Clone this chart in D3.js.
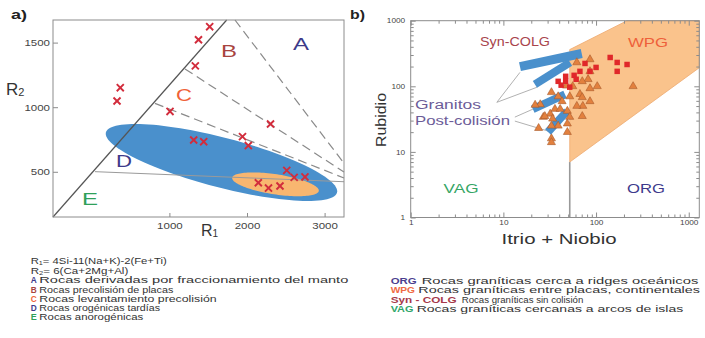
<!DOCTYPE html>
<html>
<head>
<meta charset="utf-8">
<script src="https://cdn.jsdelivr.net/npm/d3@7"></script>
<style>
  body { margin: 0; background: #fff; }
  svg { display: block; font-family: "Liberation Sans", Arial, sans-serif; }
</style>
</head>
<body>
<div id="chart"></div>
<script>
// ---- a) R1-R2 diagram ----
const r1Ticks = [1000, 2000, 3000];
const r2Ticks = [500, 1000, 1500];

// samples (R1, R2)
const samplesA = [
  [1519, 1623], [1375, 1522], [1334, 1320], [367, 1151], [325, 1048],
  [1008, 967], [2303, 870], [1942, 772], [2017, 703], [1313, 746],
  [1442, 733], [2512, 511], [2608, 457], [2747, 460], [2146, 415],
  [2277, 374], [2425, 390]
];

// field boundaries
const solidBoundary = [[-500, 150], [1738, 1675]];
const dashedBoundaries = [
  [[1845, 1675], [3250, 566]],
  [[1201, 1296], [3250, 498]],
  [[814, 1030], [3250, 452]]
];
const lateBoundary = [[41, 501], [3250, 423]];

// ellipses: centre, end of long axis, end of short axis
const blueField = [[1671, 572], [3160, 339], [1753, 758]];
const orangeField = [[2367, 403], [2925, 352], [2387, 480]];

const fieldLabelsA = ['A', 'B', 'C', 'D', 'E'];
const fieldColors = ['#3d3a8a', '#a8443f', '#ef6238', '#3d3a8a', '#2fa05a'];
const legendA = [
  'Rocas derivadas por fraccionamiento del manto',
  'Rocas precolisión de placas',
  'Rocas levantamiento precolisión',
  'Rocas orogénicas tardías',
  'Rocas anorogénicas'
];

// ---- b) Rb vs Y+Nb ----
const ynbTicks = [1, 10, 100, 1000];
const rbTicks = [1, 10, 100, 1000];

const triangles = [
  [62, 231], [86, 257], [86, 169], [82, 128], [71, 119], [103, 100], [86, 93],
  [56, 100], [67, 76], [52, 70], [71, 68], [33, 81], [39, 70], [43, 59],
  [25, 53], [36, 45], [41, 45], [32, 38], [49, 42], [27, 34], [34, 32],
  [52, 34], [71, 35], [39, 25], [49, 27], [24, 23], [33, 25], [49, 20],
  [33, 16], [33, 14], [251, 100], [86, 59], [72, 50], [62, 50], [22, 52],
  [28, 35], [48, 102]
];
const squares = [
  [142, 275], [169, 231], [216, 215], [169, 169], [76, 223], [100, 194],
  [86, 169], [67, 169], [58, 147], [47, 142], [61, 128], [39, 119],
  [47, 119], [42, 104], [52, 97]
];
const postCollisionBars = [
  [[15.1, 199], [70, 316]],
  [[21.9, 107], [52.4, 231]],
  [[20.8, 44.8], [46.2, 75.6]],
  [[30.3, 20.1], [48.6, 41.8]]
];
const leaderLines = [
  [[8.5, 57], [15.1, 163]],
  [[8.5, 57], [23, 96.6]],
  [[13.3, 33.9], [20.8, 44.8]],
  [[13.3, 29.5], [30.3, 20.8]]
];
const wpgField = [[52, 7], [52, 363], [216, 1000], [1300, 1000], [1300, 192]];
const vagOrgLine = [[52, 1], [52, 7]];

const legendB = [
  ['ORG', 'Rocas graníticas cerca a ridges oceánicos', '#4b3f8f'],
  ['WPG', 'Rocas graníticas entre placas, continentales', '#f06a45'],
  ['Syn - COLG', 'Rocas graníticas sin colisión', '#a6394a'],
  ['VAG', 'Rocas graníticas cercanas a arcos de islas', '#2fa66a']
];

const svg = d3.select('#chart').append('svg')
  .attr('width', 705)
  .attr('height', 338);

function addText(g, x, y, str, size, width, opts = {}) {
  const t = g.append('text')
    .attr('x', x)
    .attr('y', y)
    .attr('font-size', size)
    .attr('fill', opts.fill || '#333')
    .attr('text-anchor', opts.anchor || 'start')
    .text(str);
  if (opts.bold) t.attr('font-weight', 'bold');
  if (width) t.attr('textLength', width).attr('lengthAdjust', 'spacingAndGlyphs');
  return t;
}

function ellipsePath(e, x, y) {
  const [c, a, b] = e;
  const pts = d3.range(0, 360, 3).map(deg => {
    const t = deg * Math.PI / 180;
    return [
      c[0] + (a[0] - c[0]) * Math.cos(t) + (b[0] - c[0]) * Math.sin(t),
      c[1] + (a[1] - c[1]) * Math.cos(t) + (b[1] - c[1]) * Math.sin(t)
    ];
  });
  return d3.line().x(d => x(d[0])).y(d => y(d[1])).curve(d3.curveLinearClosed)(pts);
}

// ================= plot a =================
const xA = d3.scaleLinear().domain([-500, 3250]).range([53, 344]);
const yA = d3.scaleLinear().domain([150, 1675]).range([217, 20]);
const lineA = d3.line().x(d => xA(d[0])).y(d => yA(d[1]));

const ga = svg.append('g');

ga.append('path').attr('d', ellipsePath(blueField, xA, yA)).attr('fill', '#4a90cc');
ga.append('path').attr('d', ellipsePath(orangeField, xA, yA)).attr('fill', '#f8b670');

ga.append('path').attr('d', lineA(lateBoundary))
  .attr('stroke', '#9a9a9a').attr('stroke-width', 1).attr('fill', 'none');
dashedBoundaries.forEach(l => {
  ga.append('path').attr('d', lineA(l))
    .attr('stroke', '#8a8a8a').attr('stroke-width', 1.2)
    .attr('stroke-dasharray', '9,5').attr('fill', 'none');
});
ga.append('path').attr('d', lineA(solidBoundary))
  .attr('stroke', '#555').attr('stroke-width', 1.2).attr('fill', 'none');

ga.append('rect')
  .attr('x', xA(-500)).attr('y', yA(1675))
  .attr('width', xA(3250) - xA(-500)).attr('height', yA(150) - yA(1675))
  .attr('fill', 'none').attr('stroke', '#8c8c8c').attr('stroke-width', 1);

ga.selectAll('.xmark')
  .data(samplesA)
  .enter().append('path')
  .attr('class', 'xmark')
  .attr('d', d3.symbol(d3.symbolX, 34))
  .attr('transform', d => `translate(${xA(d[0])},${yA(d[1])})`)
  .attr('stroke', '#d22c3c').attr('stroke-width', 1.9).attr('fill', 'none');

// axes a
const axLeftA = ga.append('g')
  .attr('transform', `translate(${xA(-500)},0)`)
  .call(d3.axisLeft(yA).tickValues(r2Ticks).tickSize(-5).tickPadding(3).tickFormat(d3.format('d')));
const axBottomA = ga.append('g')
  .attr('transform', `translate(0,${yA(150)})`)
  .call(d3.axisBottom(xA).tickValues(r1Ticks).tickSize(-4).tickPadding(5).tickFormat(d3.format('d')));
[axLeftA, axBottomA].forEach(ax => {
  ax.select('.domain').remove();
  ax.selectAll('line').attr('stroke', '#8c8c8c');
  ax.selectAll('text')
    .attr('font-size', 9.5).attr('fill', '#444')
    .attr('textLength', d => String(d).length * 6.4)
    .attr('lengthAdjust', 'spacingAndGlyphs');
});

// field letters
const letterPos = [[301, 50], [229, 57], [184, 100.5], [124, 166.5], [90, 205]];
fieldLabelsA.forEach((l, i) => {
  addText(ga, letterPos[i][0], letterPos[i][1], l, 16, 16, {fill: fieldColors[i], anchor: 'middle'});
});

addText(ga, 11, 19, 'a)', 13, 16, {fill: '#222', bold: true});

// axis titles R1 / R2
const r2t = ga.append('text').attr('x', 6).attr('y', 95).attr('font-size', 17).attr('fill', '#333');
r2t.append('tspan').text('R');
r2t.append('tspan').attr('font-size', 11).attr('dy', 1).text('2');
const r1t = ga.append('text').attr('x', 201).attr('y', 236).attr('font-size', 16).attr('fill', '#333');
r1t.append('tspan').text('R');
r1t.append('tspan').attr('font-size', 10).attr('dy', 1).text('1');

// legend a
const legFont = 8.6;
const leg1 = ga.append('text').attr('x', 30.7).attr('y', 264).attr('font-size', legFont).attr('fill', '#333')
  .attr('textLength', 136).attr('lengthAdjust', 'spacingAndGlyphs');
leg1.append('tspan').text('R');
leg1.append('tspan').attr('font-size', 5.5).attr('dy', 1).text('1');
leg1.append('tspan').attr('dy', -1).text('=  4Si-11(Na+K)-2(Fe+Ti)');
const leg2 = ga.append('text').attr('x', 30.7).attr('y', 273.5).attr('font-size', legFont).attr('fill', '#333')
  .attr('textLength', 97.6).attr('lengthAdjust', 'spacingAndGlyphs');
leg2.append('tspan').text('R');
leg2.append('tspan').attr('font-size', 5.5).attr('dy', 1).text('2');
leg2.append('tspan').attr('dy', -1).text('=  6(Ca+2Mg+Al)');

const legBase = [283, 292.5, 302, 311, 320];
const legWidth = [309, 134, 177.4, 120.7, 104];
legendA.forEach((s, i) => {
  addText(ga, 30.7, legBase[i], fieldLabelsA[i], legFont, 6, {fill: fieldColors[i], bold: true});
  addText(ga, 39.3, legBase[i], s, legFont, legWidth[i]);
});

// ================= plot b =================
const xB = d3.scaleLog().domain([1, 1300]).range([410.7, 699.3]);
const yB = d3.scaleLog().domain([1, 1000]).range([217.5, 20.7]);
const lineB = d3.line().x(d => xB(d[0])).y(d => yB(d[1]));

const gb = svg.append('g');

gb.append('path').attr('d', lineB(wpgField) + 'Z')
  .attr('fill', '#fac38c').attr('stroke', '#eeaa70').attr('stroke-width', 0.8);
gb.append('path').attr('d', lineB(vagOrgLine))
  .attr('stroke', '#999').attr('stroke-width', 1.6).attr('fill', 'none');

leaderLines.forEach(l => {
  gb.append('path').attr('d', lineB(l))
    .attr('stroke', '#a8a8a8').attr('stroke-width', 0.9).attr('fill', 'none');
});

postCollisionBars.forEach((b, i) => {
  gb.append('path').attr('d', lineB(b))
    .attr('stroke', '#4a90cc').attr('stroke-width', i === 0 ? 9 : 8)
    .attr('stroke-linecap', 'butt').attr('fill', 'none');
});

gb.selectAll('.tri')
  .data(triangles)
  .enter().append('path')
  .attr('class', 'tri')
  .attr('d', d3.symbol(d3.symbolTriangle, 28))
  .attr('transform', d => `translate(${xB(d[0])},${yB(d[1])})`)
  .attr('fill', '#e2803e').attr('stroke', '#a95a2c').attr('stroke-width', 0.6);

gb.selectAll('.sq')
  .data(squares)
  .enter().append('path')
  .attr('class', 'sq')
  .attr('d', d3.symbol(d3.symbolSquare, 30))
  .attr('transform', d => `translate(${xB(d[0])},${yB(d[1])})`)
  .attr('fill', '#e0282a');

gb.append('rect')
  .attr('x', xB(1)).attr('y', yB(1000))
  .attr('width', xB(1300) - xB(1)).attr('height', yB(1) - yB(1000))
  .attr('fill', 'none').attr('stroke', '#8c8c8c').attr('stroke-width', 1);

// axes b, with minor log ticks on every side
const minorX = [1, 10, 100].flatMap(p => [2, 3, 4, 5, 6, 7, 8, 9].map(k => k * p));
const minorY = minorX.filter(v => v < 1000);

function styleAxis(ax) {
  ax.select('.domain').remove();
  ax.selectAll('line').attr('stroke', '#8c8c8c');
}
const axB = [
  gb.append('g').attr('transform', `translate(0,${yB(1)})`)
    .call(d3.axisBottom(xB).tickValues(ynbTicks).tickSize(-5).tickPadding(2.5).tickFormat(d3.format('d'))),
  gb.append('g').attr('transform', `translate(${xB(1)},0)`)
    .call(d3.axisLeft(yB).tickValues(rbTicks).tickSize(-5).tickPadding(5.5).tickFormat(d3.format('d'))),
  gb.append('g').attr('transform', `translate(0,${yB(1)})`)
    .call(d3.axisBottom(xB).tickValues(minorX).tickSize(-3).tickFormat('')),
  gb.append('g').attr('transform', `translate(${xB(1)},0)`)
    .call(d3.axisLeft(yB).tickValues(minorY).tickSize(-3).tickFormat('')),
  gb.append('g').attr('transform', `translate(0,${yB(1000)})`)
    .call(d3.axisTop(xB).tickValues(ynbTicks).tickSize(-5).tickFormat('')),
  gb.append('g').attr('transform', `translate(0,${yB(1000)})`)
    .call(d3.axisTop(xB).tickValues(minorX).tickSize(-3).tickFormat('')),
  gb.append('g').attr('transform', `translate(${xB(1300)},0)`)
    .call(d3.axisRight(yB).tickValues(rbTicks).tickSize(-5).tickFormat('')),
  gb.append('g').attr('transform', `translate(${xB(1300)},0)`)
    .call(d3.axisRight(yB).tickValues(minorY).tickSize(-3).tickFormat(''))
];
axB.forEach(styleAxis);
axB.slice(0, 2).forEach(ax => {
  ax.selectAll('text')
    .attr('font-size', 7).attr('fill', '#444')
    .attr('textLength', d => String(d).length * 4.6)
    .attr('lengthAdjust', 'spacingAndGlyphs');
});

// region labels
addText(gb, 515, 46, 'Syn-COLG', 13, 70, {fill: '#a8444c', anchor: 'middle'});
addText(gb, 648, 46.5, 'WPG', 13, 40, {fill: '#ee5f3a', anchor: 'middle'});
addText(gb, 461, 193, 'VAG', 13, 35, {fill: '#35a565', anchor: 'middle'});
addText(gb, 646, 193, 'ORG', 13, 38, {fill: '#3d3a8c', anchor: 'middle'});
addText(gb, 415, 109, 'Granitos', 12.5, 66, {fill: '#6c5c98'});
addText(gb, 415, 125, 'Post-colisión', 12.5, 95, {fill: '#6c5c98'});

addText(gb, 350, 19, 'b)', 13, 15, {fill: '#222', bold: true});
addText(gb, 559, 244, 'Itrio + Niobio', 15, 115, {fill: '#333', anchor: 'middle'});
gb.append('text')
  .attr('transform', 'translate(386,120) rotate(-90)')
  .attr('text-anchor', 'middle')
  .attr('font-size', 15).attr('fill', '#333')
  .attr('textLength', 54).attr('lengthAdjust', 'spacingAndGlyphs')
  .text('Rubidio');

// legend b
const legBBase = [283.5, 293, 302.5, 312];
const legBRest = [[421.7, 276.6], [418.3, 281.7], [461.7, 121.6], [416.7, 266.6]];
const legBKey = [26, 24.3, 66, 22.7];
legendB.forEach((row, i) => {
  addText(gb, 390.7, legBBase[i], row[0], legFont, legBKey[i], {fill: row[2], bold: true});
  addText(gb, legBRest[i][0], legBBase[i], row[1], legFont, legBRest[i][1]);
});
</script>
</body>
</html>
